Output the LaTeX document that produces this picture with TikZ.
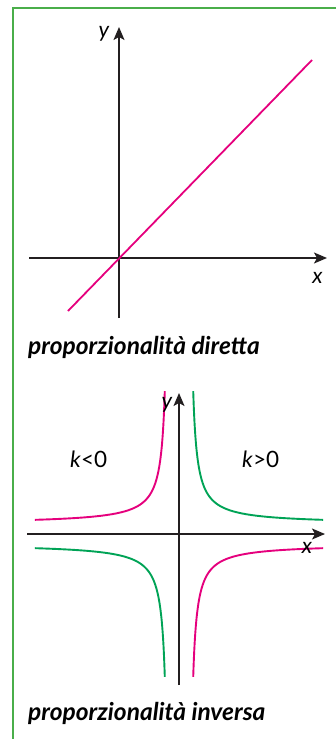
\documentclass[tikz,border=0pt]{standalone}
\usepackage{fontspec}
\setmainfont{Lato}
\usepackage{xcolor}
\definecolor{graphMagenta}{HTML}{E5007D}
\definecolor{graphGreen}{HTML}{00A356}
\definecolor{frameGreen}{HTML}{4AAE4A}
\definecolor{axisBlack}{HTML}{231F20}
\usetikzlibrary{arrows.meta}

\begin{document}
\begin{tikzpicture}[x=1pt, y=1pt,
    axisline/.style={axisBlack, line width=1.4pt, -{Stealth[length=13pt, width=11pt, inset=3pt]}},
    curveline/.style={line width=1.9pt, smooth},
    axislabel/.style={anchor=base, inner sep=0pt, font=\fontsize{22}{26}\selectfont\itshape},
    klabel/.style={anchor=base west, inner sep=0pt, font=\fontsize{22.5}{26}\selectfont},
    caption/.style={anchor=base west, inner sep=0pt, font=\fontsize{24.5}{28}\selectfont\bfseries\itshape}]
  \useasboundingbox (0,0) rectangle (336,-739);
  \draw[frameGreen, line width=2pt] (13,-739) -- (13,-8) -- (336,-8);
  % top graph
  \coordinate (xa1) at (29,-258);
  \coordinate (xb1) at (327,-258);
  \coordinate (ya1) at (119,-318);
  \coordinate (yb1) at (119,-27);
  \coordinate (la) at (68,-311);
  \coordinate (lb) at (312,-60);
  \draw[axisline] (xa1) -- (xb1);
  \draw[axisline] (ya1) -- (yb1);
  \draw[graphMagenta, line width=1.8pt] (la) -- (lb);
  \node[axislabel] (ylab1) at (104,-37) {y};
  \node[axislabel] (xlab1) at (317.5,-283) {x};
  \node[caption] (cap1) at (28,-354) {proporzionalità diretta};
  % bottom graph
  \coordinate (xa2) at (27,-534);
  \coordinate (xb2) at (325,-534);
  \coordinate (ya2) at (179,-685);
  \coordinate (yb2) at (179,-393);
  \draw[axisline] (xa2) -- (xb2);
  \draw[axisline] (ya2) -- (yb2);
  \draw[graphGreen, curveline] plot[domain=-1.725:1.735, samples=60] ({189+23.66*exp(\x)}, {-524+23.66*exp(-\x)});
  \draw[graphMagenta, curveline] plot[domain=-1.725:1.735, samples=60] ({169-23.66*exp(\x)}, {-524+23.66*exp(-\x)});
  \draw[graphGreen, curveline] plot[domain=-1.725:1.735, samples=60] ({169-23.66*exp(\x)}, {-544-23.66*exp(-\x)});
  \draw[graphMagenta, curveline] plot[domain=-1.725:1.735, samples=60] ({189+23.66*exp(\x)}, {-544-23.66*exp(-\x)});
  \node[axislabel] (ylab2) at (167,-408) {y};
  \node[axislabel] (xlab2) at (307,-553) {x};
  \node[klabel] (kneg) at (70,-467) {\textit{k}<0};
  \node[klabel] (kpos) at (242,-467) {\textit{k}>0};
  \node[caption] (cap2) at (28,-720) {proporzionalità inversa};
\end{tikzpicture}
\end{document}
